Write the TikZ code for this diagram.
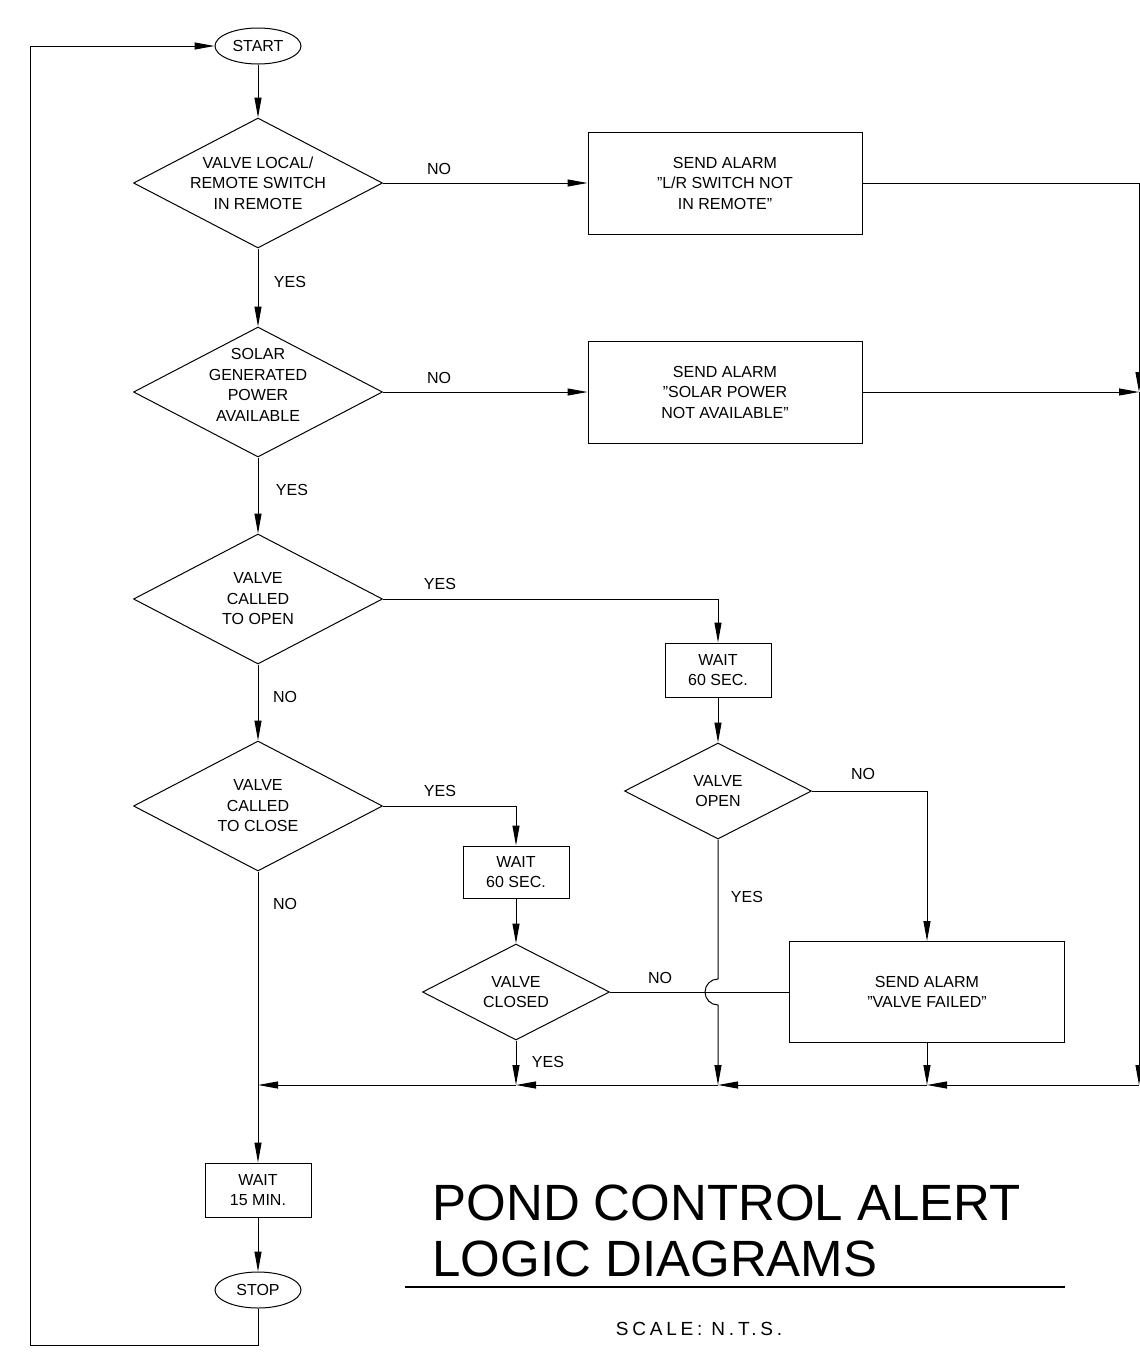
\documentclass[tikz,border=0pt]{standalone}
\usepackage{fontspec}
\setmainfont{Liberation Sans}
\usepackage{tikz}
\usetikzlibrary{arrows.meta,positioning,shapes.geometric}
\tikzset{
  flow-text/.style={inner sep=0pt, align=center, font=\fontsize{16}{20.5}\selectfont},
  flow-decision/.style={diamond, draw, line width=1pt, inner sep=0pt,
    minimum width=249pt, minimum height=130pt},
  flow-process/.style={rectangle, draw, line width=1pt, inner sep=0pt, flow-text},
  flow-terminal/.style={ellipse, draw, line width=1pt, inner sep=0pt,
    minimum width=86pt, minimum height=36pt, flow-text},
  flow-note/.style={flow-text},
  flow-title/.style={inner sep=0pt, anchor=base west, font=\fontsize{51}{56}\selectfont}
}

\begin{document}
\begin{tikzpicture}[x=1pt, y=-1pt, line width=1pt, >={Triangle[length=20pt,width=7pt]}]
  \useasboundingbox (0,0) rectangle (1140,1361);

  % main column
  \node[flow-terminal] (start) at (258,46) {START};
  \node[flow-decision, label={[flow-text]center:VALVE LOCAL/\\REMOTE SWITCH\\IN REMOTE}] (remote) at (258,183) {};
  \node[flow-decision, label={[flow-text, yshift=7pt]center:SOLAR\\GENERATED\\POWER\\AVAILABLE}] (solar) at (258,392) {};
  \node[flow-decision, label={[flow-text]center:VALVE\\CALLED\\TO OPEN}] (call-open) at (258,599) {};
  \node[flow-decision, label={[flow-text]center:VALVE\\CALLED\\TO CLOSE}] (call-close) at (258,806) {};
  \node[flow-process, minimum width=106pt, minimum height=54pt] (wait-stop) at (258,1190) {WAIT\\15 MIN.};
  \node[flow-terminal] (stop) at (258,1290) {STOP};

  % alarms
  \node[flow-process, minimum width=274pt, minimum height=102pt] (alarm-lr) at (725,183) {SEND ALARM\\"L/R SWITCH NOT\\IN REMOTE"};
  \node[flow-process, minimum width=274pt, minimum height=102pt] (alarm-solar) at (725,392) {SEND ALARM\\"SOLAR POWER\\NOT AVAILABLE"};
  \node[flow-process, minimum width=275pt, minimum height=101pt] (alarm-fail) at (927,992) {SEND ALARM\\"VALVE FAILED"};

  % valve checks
  \node[flow-process, minimum width=106pt, minimum height=54pt] (wait-open) at (718,670) {WAIT\\60 SEC.};
  \node[flow-decision, minimum width=187pt, minimum height=96pt, label={[flow-text]center:VALVE\\OPEN}] (valve-open) at (718,791) {};
  \node[flow-process, minimum width=106pt, minimum height=52pt] (wait-close) at (516,872) {WAIT\\60 SEC.};
  \node[flow-decision, minimum width=187pt, minimum height=96pt, label={[flow-text]center:VALVE\\CLOSED}] (valve-closed) at (516,992) {};

  \coordinate (right-top) at (1139,183);
  \coordinate (right-mid) at (1139,392);
  \coordinate (right-bot) at (1139,1085);
  \coordinate (join-fail) at (alarm-fail.south |- right-bot);
  \coordinate (join-open) at (valve-open.south |- right-bot);
  \coordinate (join-closed) at (valve-closed.south |- right-bot);
  \coordinate (join-main) at (call-close.south |- right-bot);
  \coordinate (hop-top) at (718,979);
  \coordinate (loop-corner) at (30,1345);

  \draw[->] (start) -- (remote);
  \draw[->] (remote) -- (solar);
  \draw[->] (solar) -- (call-open);
  \draw[->] (call-open) -- (call-close);
  \draw[->] (call-close) -- (wait-stop);
  \draw[->] (wait-stop) -- (stop);
  \draw[->] (stop.south) |- (loop-corner) |- (start.west);

  \draw[->] (remote) -- (alarm-lr);
  \draw[->] (solar) -- (alarm-solar);
  \draw (alarm-lr.east) -- (right-top);
  \draw[->] (right-top) -- (right-mid);
  \draw[->] (alarm-solar.east) -- (right-mid);
  \draw[->] (right-mid) -- (right-bot);

  \draw[->] (call-open.east) -| (wait-open.north);
  \draw[->] (wait-open) -- (valve-open);
  \draw[->] (valve-open.east) -| (alarm-fail.north);
  \draw[->] (valve-open.south) -- (hop-top) arc[start angle=90, end angle=270, radius=13pt] -- (join-open);
  \draw[->] (call-close.east) -| (wait-close.north);
  \draw[->] (wait-close) -- (valve-closed);
  \draw (valve-closed.east) -- (alarm-fail.west);
  \draw[->] (valve-closed) -- (join-closed);
  \draw[->] (alarm-fail) -- (join-fail);

  % return line
  \draw[->] (right-bot) -- (join-fail);
  \draw[->] (join-fail) -- (join-open);
  \draw[->] (join-open) -- (join-closed);
  \draw[->] (join-closed) -- (join-main);

  % branch labels
  \node[flow-note] (no-lr) at (439,169) {NO};
  \node[flow-note] (yes-lr) at (290,282) {YES};
  \node[flow-note] (no-solar) at (439,378) {NO};
  \node[flow-note] (yes-solar) at (292,490) {YES};
  \node[flow-note] (yes-open) at (440,584) {YES};
  \node[flow-note] (no-open) at (285,697) {NO};
  \node[flow-note] (yes-close) at (440,791) {YES};
  \node[flow-note] (no-close) at (285,904) {NO};
  \node[flow-note] (no-valve-open) at (863,774) {NO};
  \node[flow-note] (yes-valve-open) at (747,897) {YES};
  \node[flow-note] (no-valve-closed) at (660,978) {NO};
  \node[flow-note] (yes-valve-closed) at (548,1062) {YES};

  % title block
  \node[flow-title] (title-top) at (432,1220) {POND CONTROL ALERT};
  \node[flow-title] (title-bot) at (432,1276) {LOGIC DIAGRAMS};
  \coordinate (rule-left) at (405,1287);
  \coordinate (rule-right) at (1065,1287);
  \draw[line width=2pt] (rule-left) -- (rule-right);
  \node[flow-note, font=\fontsize{19}{22}\selectfont\addfontfeature{LetterSpace=20}] (scale) at (699,1329) {SCALE:\ N.T.S.};
\end{tikzpicture}
\end{document}
